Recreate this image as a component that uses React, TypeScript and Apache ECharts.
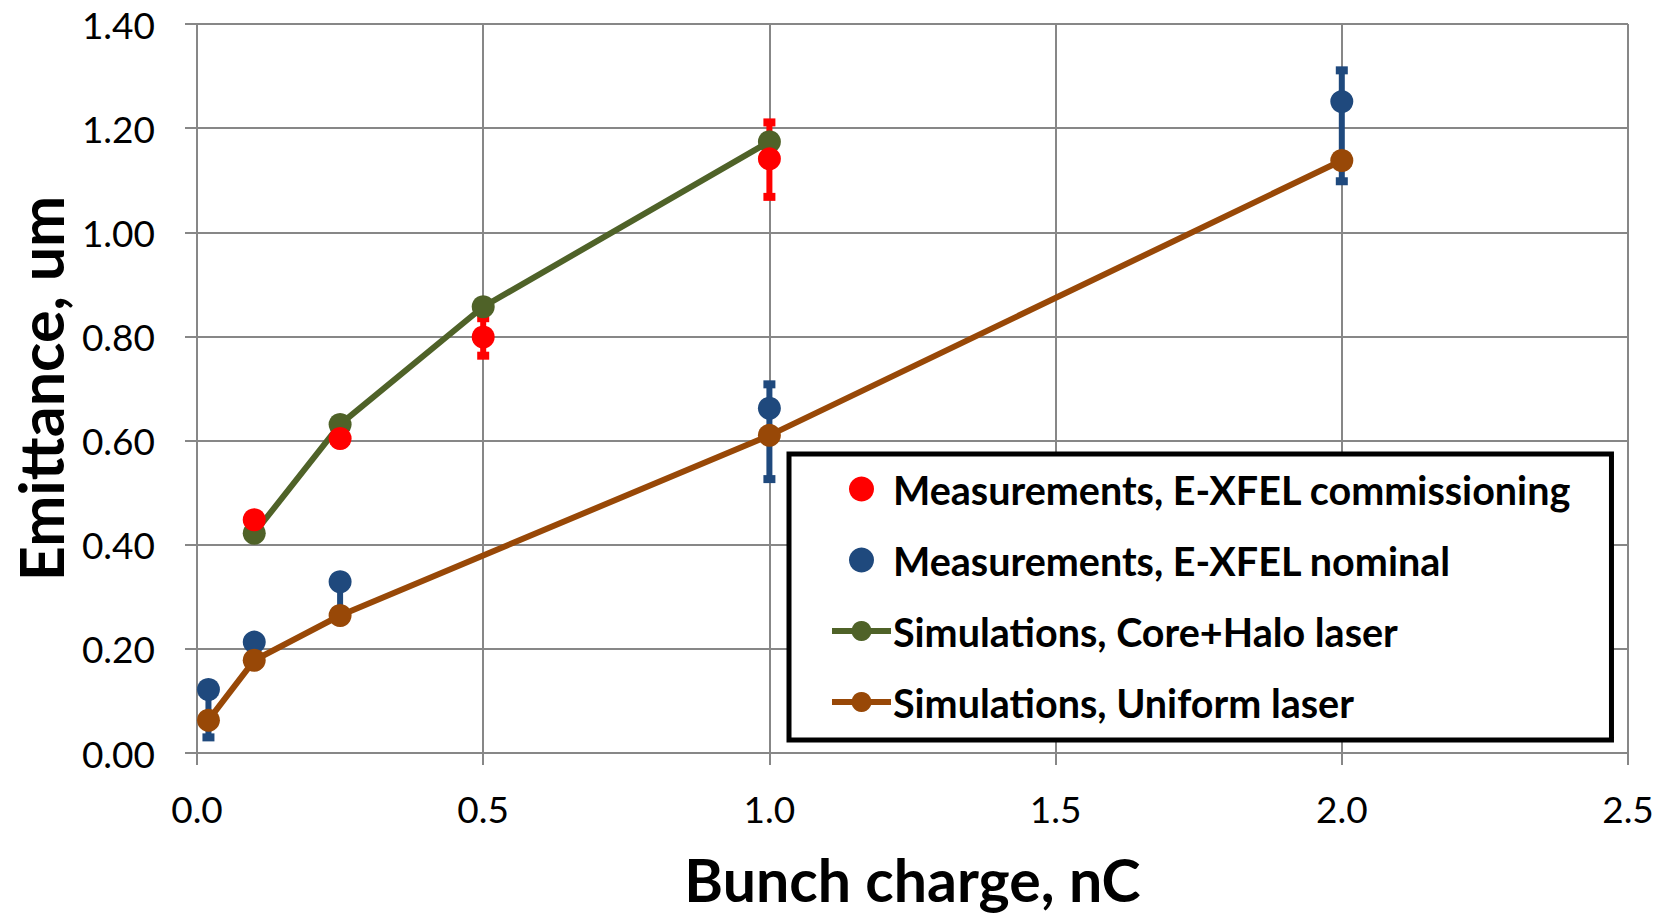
import React, { useEffect, useRef } from 'react';
import * as echarts from 'echarts';

// ---- data ----
const xAxisTitle = 'Bunch charge, nC';
const yAxisTitle = 'Emittance, um';

const commName = 'Measurements, E-XFEL commissioning';
const commX = [0.1, 0.25, 0.5, 1.0];
const commY = [0.448, 0.604, 0.799, 1.141];
const commErrMinus = [0, 0, 0.036, 0.073];
const commErrPlus = [0, 0, 0.036, 0.07];

const nomName = 'Measurements, E-XFEL nominal';
const nomX = [0.02, 0.1, 0.25, 1.0, 2.0];
const nomY = [0.122, 0.213, 0.329, 0.662, 1.251];
const nomErrMinus = [0.092, 0.03, 0.06, 0.136, 0.153];
const nomErrPlus = [0, 0, 0, 0.046, 0.06];

const haloName = 'Simulations, Core+Halo laser';
const haloX = [0.1, 0.25, 0.5, 1.0];
const haloY = [0.422, 0.631, 0.857, 1.174];

const uniName = 'Simulations, Uniform laser';
const uniX = [0.02, 0.1, 0.25, 1.0, 2.0];
const uniY = [0.063, 0.178, 0.264, 0.61, 1.138];

const RED = '#FF0000';
const BLUE = '#1F497D';
const GREEN = '#4F6228';
const BROWN = '#984807';
const GRID = '#878787';
const FONT = 'Lato';

const errRender = (color: string) => (params: any, api: any) => {
  const x = api.value(0);
  const y = api.value(1);
  const lo = api.value(2);
  const hi = api.value(3);
  const pLo = api.coord([x, lo]);
  const pHi = api.coord([x, hi]);
  const children: any[] = [];
  if (hi > lo) {
    children.push({
      type: 'line',
      shape: { x1: pLo[0], y1: pLo[1], x2: pHi[0], y2: pHi[1] },
      style: { stroke: color, lineWidth: 6 },
    });
  }
  if (lo < y) {
    children.push({
      type: 'rect',
      shape: { x: pLo[0] - 6, y: pLo[1] - 4, width: 12, height: 8 },
      style: { fill: color },
    });
  }
  if (hi > y) {
    children.push({
      type: 'rect',
      shape: { x: pHi[0] - 6, y: pHi[1] - 4, width: 12, height: 8 },
      style: { fill: color },
    });
  }
  return { type: 'group', children };
};

export default function App() {
  const ref = useRef<HTMLDivElement>(null);

  useEffect(() => {
    if (!ref.current) return;
    const chart = echarts.init(ref.current, undefined, { renderer: 'svg' });
    const commErr = commX.map((x, i) => [x, commY[i], commY[i] - commErrMinus[i], commY[i] + commErrPlus[i]]);
    const nomErr = nomX.map((x, i) => [x, nomY[i], nomY[i] - nomErrMinus[i], nomY[i] + nomErrPlus[i]]);

    chart.setOption({
      animation: false,
      backgroundColor: '#ffffff',
      textStyle: { fontFamily: FONT },
      grid: { left: 197, right: 39, top: 24, bottom: 158, containLabel: false },
      xAxis: {
        type: 'value',
        min: 0,
        max: 2.5,
        interval: 0.5,
        name: xAxisTitle,
        nameLocation: 'middle',
        nameGap: 97,
        nameTextStyle: { fontFamily: FONT, fontWeight: 'bold', fontSize: 59, color: '#000' },
        axisLine: { show: true, lineStyle: { color: GRID, width: 2 } },
        axisTick: { show: true, inside: false, length: 12, lineStyle: { color: GRID, width: 2 } },
        axisLabel: { fontFamily: FONT, fontSize: 37, color: '#000', margin: 37, formatter: (v: number) => v.toFixed(1) },
        splitLine: { show: true, lineStyle: { color: GRID, width: 2 } },
      },
      yAxis: {
        type: 'value',
        min: 0,
        max: 1.4,
        interval: 0.2,
        name: yAxisTitle,
        nameLocation: 'middle',
        nameGap: 126,
        nameTextStyle: { fontFamily: FONT, fontWeight: 'bold', fontSize: 61, color: '#000' },
        axisLine: { show: true, lineStyle: { color: GRID, width: 2 } },
        axisTick: { show: true, inside: false, length: 12, lineStyle: { color: GRID, width: 2 } },
        axisLabel: { fontFamily: FONT, fontSize: 37, color: '#000', margin: 42, formatter: (v: number) => v.toFixed(2) },
        splitLine: { show: true, lineStyle: { color: GRID, width: 2 } },
      },
      legend: {
        data: [commName, nomName, haloName, uniName],
        orient: 'vertical',
        left: 789,
        top: 454,
        backgroundColor: '#ffffff',
        borderColor: '#000000',
        borderWidth: 5,
        borderRadius: 0,
        padding: [15, 40, 18, 40],
        itemWidth: 59,
        itemHeight: 25,
        itemGap: 31,
        selectedMode: false,
        lineStyle: { width: 6 },
        textStyle: { fontFamily: FONT, fontWeight: 'bold', fontSize: 39.5, color: '#000', padding: [0, 0, 0, -3] },
      },
      series: [
        {
          name: 'nomErr',
          type: 'custom',
          renderItem: errRender(BLUE),
          encode: { x: 0, y: [1, 2, 3] },
          data: nomErr,
          z: 1,
          silent: true,
        },
        {
          name: 'commErr',
          type: 'custom',
          renderItem: errRender(RED),
          encode: { x: 0, y: [1, 2, 3] },
          data: commErr,
          z: 1,
          silent: true,
        },
        {
          name: nomName,
          type: 'scatter',
          symbol: 'circle',
          symbolSize: 23,
          itemStyle: { color: BLUE, opacity: 1 },
          data: nomX.map((x, i) => [x, nomY[i]]),
          z: 2,
        },
        {
          name: haloName,
          type: 'line',
          symbol: 'circle',
          symbolSize: 23,
          showSymbol: true,
          itemStyle: { color: GREEN, borderWidth: 0 },
          lineStyle: { color: GREEN, width: 6 },
          data: haloX.map((x, i) => [x, haloY[i]]),
          z: 3,
        },
        {
          name: uniName,
          type: 'line',
          symbol: 'circle',
          symbolSize: 23,
          showSymbol: true,
          itemStyle: { color: BROWN, borderWidth: 0 },
          lineStyle: { color: BROWN, width: 6 },
          data: uniX.map((x, i) => [x, uniY[i]]),
          z: 4,
        },
        {
          name: commName,
          type: 'scatter',
          symbol: 'circle',
          symbolSize: 23,
          itemStyle: { color: RED, opacity: 1 },
          data: commX.map((x, i) => [x, commY[i]]),
          z: 5,
        },
      ],
    });
    return () => chart.dispose();
  }, []);

  return (
    <div
      ref={ref}
      style={{ position: 'absolute', left: 0, top: 0, width: 1667, height: 914, background: '#fff' }}
    />
  );
}
